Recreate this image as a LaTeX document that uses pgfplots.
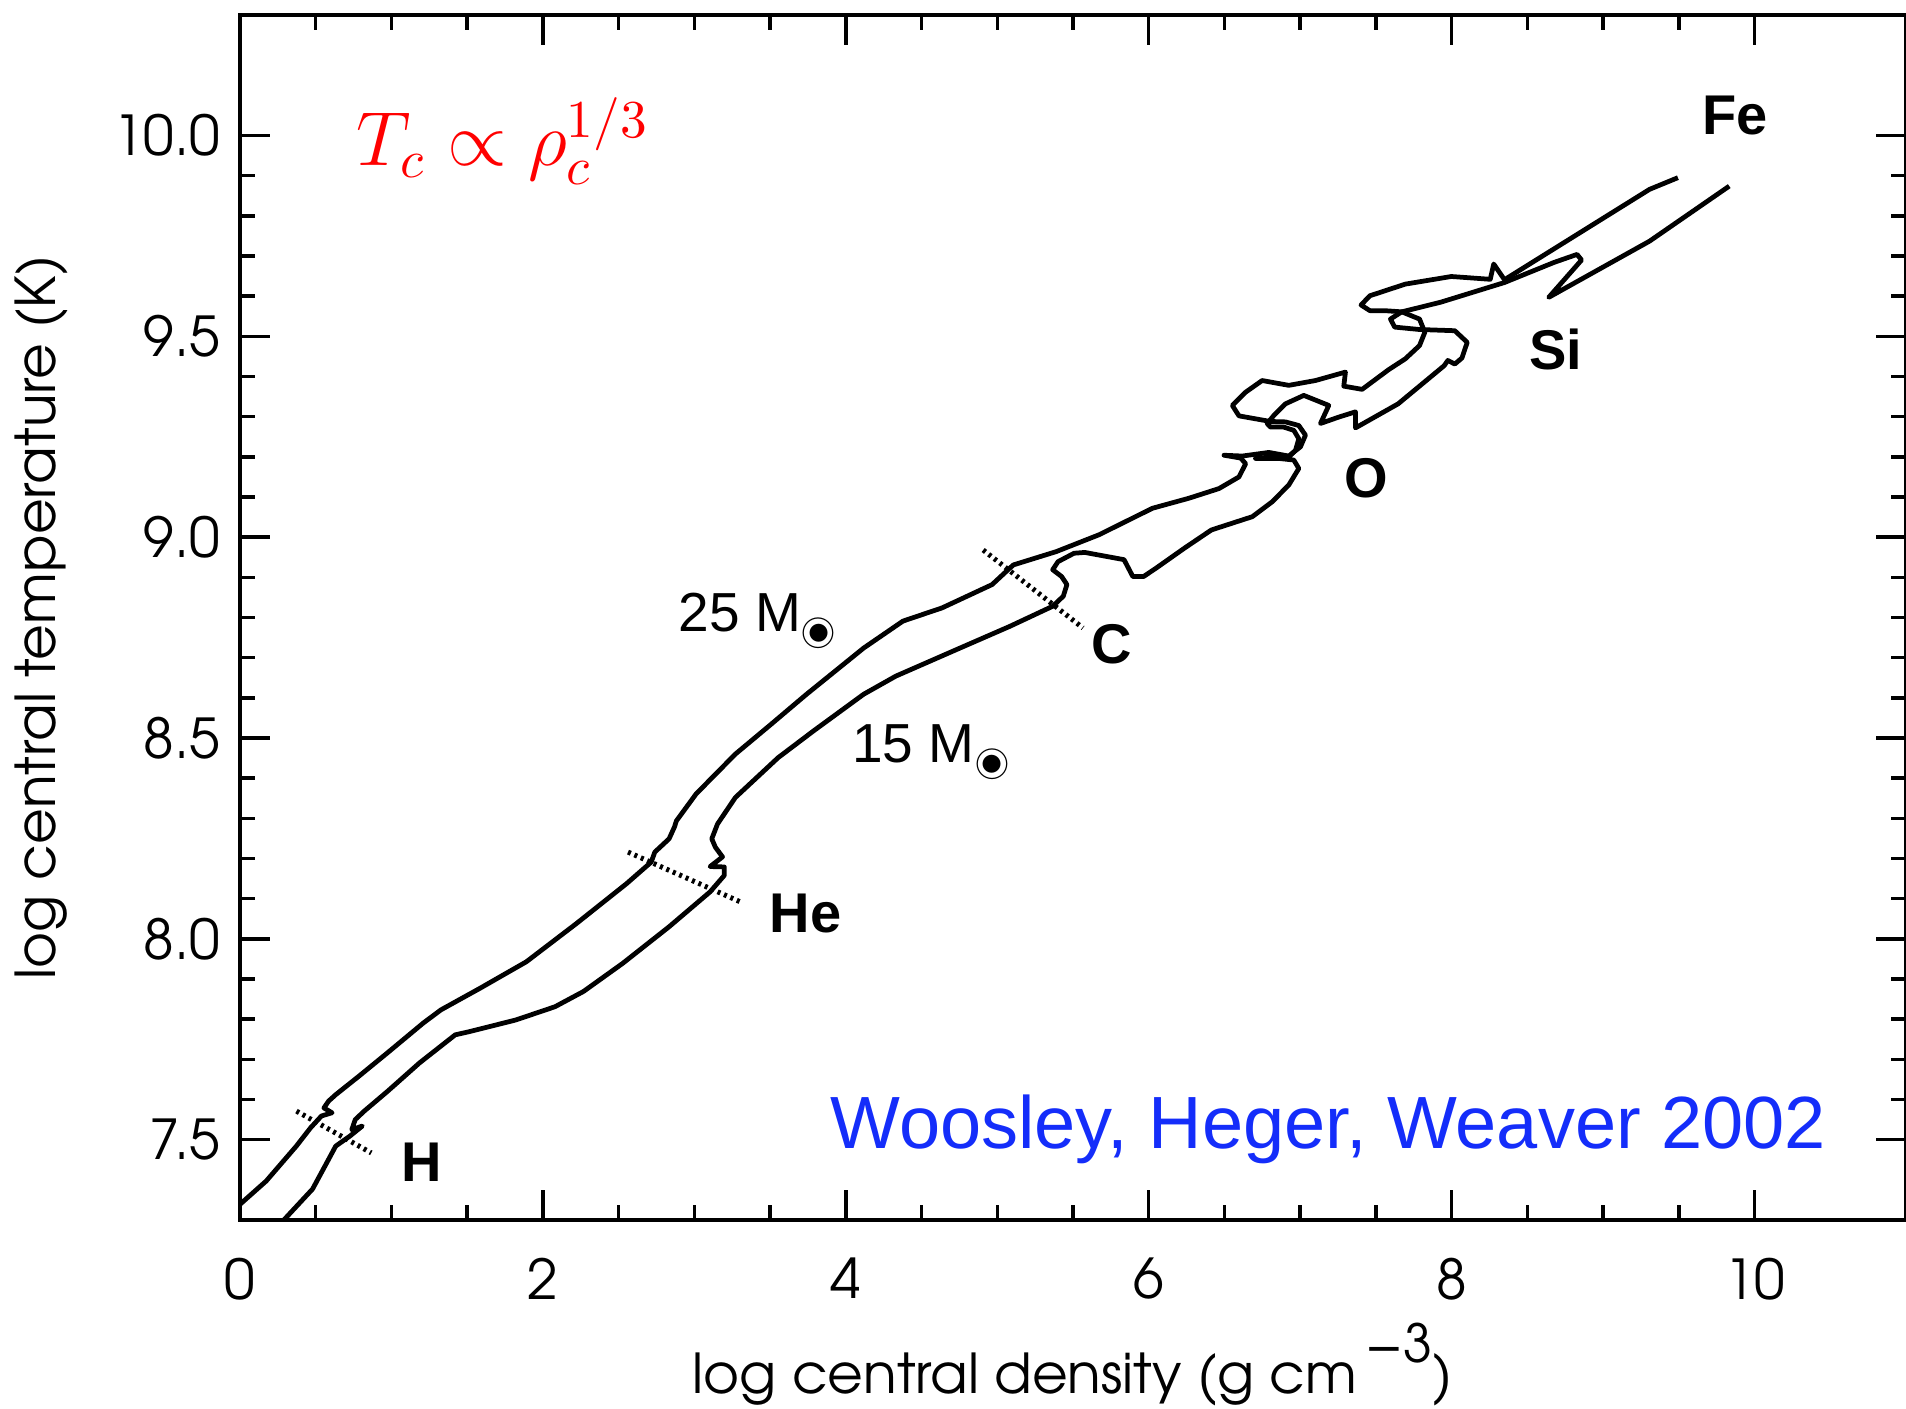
\documentclass[border=0pt]{standalone}
\usepackage{fontspec}
\setmainfont{Liberation Sans}
\newfontfamily\adv{TeX Gyre Adventor}
\usepackage{graphicx}
\usepackage{pgfplots}
\pgfplotsset{compat=1.18}
\definecolor{wblue}{RGB}{20,45,250}
\newcommand{\sun}{\raisebox{-2.6pt}{\fontsize{8.8}{9}\selectfont\ooalign{$\odot$\cr\hfil$\bullet$\hfil\cr}}}
\begin{document}
\begin{tikzpicture}
\begin{axis}[
  at={(0,0)}, anchor=south west,
  scale only axis, width=333.2pt, height=241pt,
  xmin=0, xmax=11, ymin=7.3, ymax=10.3,
  xtick={0,2,4,6,8,10}, ytick={7.5,8.0,8.5,9.0,9.5,10.0},
  minor x tick num=3, minor y tick num=4,
  tick align=inside, tick pos=both,
  major tick length=6pt, minor tick length=3pt,
  axis line style={line width=0.7pt},
  every tick/.style={black, line width=0.7pt},
  /pgf/number format/assume math mode=true,
  yticklabel style={/pgf/number format/fixed, /pgf/number format/fixed zerofill, /pgf/number format/precision=1, xshift=-0.5pt},
  tick label style={font=\adv\fontsize{11}{13}\selectfont},
  xticklabel style={yshift=-4pt},
  xlabel={log central density (g cm\,\raisebox{1.0ex}{\fontsize{10.5}{12}\selectfont −3})},
  ylabel={log central temperature (K)},
  xlabel style={font=\adv\fontsize{11}{13}\selectfont, at={(axis description cs:0.5,-0.1436)}, anchor=base},
  ylabel style={font=\adv\fontsize{11}{13}\selectfont, at={(axis description cs:-0.111,0.5)}, anchor=base},
]
% 25 Msun track
\addplot[black, line width=0.95pt, line join=round, mark=none] coordinates {
(0,7.339) (0.173,7.397) (0.372,7.484) (0.467,7.530) (0.538,7.559) (0.608,7.567)
(0.554,7.579) (0.585,7.596) (0.632,7.612) (0.785,7.658) (0.973,7.716) (1.209,7.790)
(1.326,7.823) (1.585,7.877) (1.891,7.943) (2.221,8.038) (2.551,8.137) (2.715,8.191)
(2.739,8.216) (2.833,8.249) (2.868,8.278) (2.882,8.294) (3.012,8.361) (3.271,8.460)
(3.506,8.534) (3.741,8.609) (4.118,8.724) (4.377,8.791) (4.636,8.824) (4.966,8.882)
(5.083,8.923) (5.107,8.931) (5.389,8.964) (5.672,9.006) (6.025,9.072) (6.266,9.097)
(6.464,9.121) (6.596,9.150) (6.640,9.183) (6.607,9.197) (6.497,9.204) (6.618,9.202)
(6.793,9.211) (6.925,9.202) (7.002,9.225) (7.035,9.254) (6.991,9.278) (6.903,9.287)
(6.804,9.288) (6.596,9.302) (6.552,9.328) (6.640,9.361) (6.749,9.390) (6.925,9.378)
(7.101,9.390) (7.299,9.411) (7.288,9.376) (7.409,9.368) (7.584,9.417) (7.694,9.444)
(7.788,9.477) (7.823,9.510) (7.788,9.543) (7.671,9.561) (7.554,9.564) (7.460,9.564)
(7.402,9.578) (7.460,9.601) (7.694,9.630) (7.998,9.649) (8.255,9.642) (8.278,9.680)
(8.349,9.641) (9.307,9.866) (9.494,9.895)
};
% 15 Msun track
\addplot[black, line width=0.95pt, line join=round, mark=none] coordinates {
(0.24,7.28) (0.479,7.377) (0.585,7.451) (0.632,7.484) (0.726,7.509) (0.808,7.534)
(0.738,7.525) (0.761,7.550) (0.820,7.571) (0.973,7.620) (1.185,7.691) (1.421,7.761)
(1.515,7.769) (1.821,7.798) (2.080,7.831) (2.268,7.869) (2.527,7.939) (2.833,8.030)
(3.104,8.117) (3.198,8.158) (3.198,8.179) (3.104,8.180) (3.186,8.204) (3.139,8.228)
(3.115,8.249) (3.153,8.286) (3.271,8.352) (3.553,8.451) (3.788,8.518) (4.118,8.609)
(4.330,8.654) (4.730,8.720) (5.083,8.778) (5.366,8.828) (5.436,8.853) (5.460,8.882)
(5.425,8.902) (5.366,8.919) (5.401,8.939) (5.507,8.960) (5.578,8.962) (5.837,8.944)
(5.895,8.902) (5.966,8.902) (6.049,8.923) (6.237,8.973) (6.414,9.018) (6.684,9.051)
(6.815,9.088) (6.925,9.130) (6.991,9.171) (6.958,9.192) (6.859,9.196) (6.705,9.196)
(6.815,9.200) (6.914,9.196) (6.969,9.216) (6.991,9.245) (6.958,9.266) (6.892,9.274)
(6.804,9.274) (6.782,9.283) (6.826,9.303) (6.903,9.332) (7.024,9.353) (7.189,9.328)
(7.134,9.283) (7.255,9.299) (7.365,9.312) (7.365,9.272) (7.647,9.332) (7.951,9.427)
(7.975,9.440) (8.021,9.431) (8.068,9.446) (8.103,9.485) (8.021,9.514) (7.788,9.517)
(7.624,9.523) (7.596,9.543) (7.671,9.561) (7.928,9.585) (8.349,9.634) (8.676,9.684)
(8.828,9.704) (8.858,9.690) (8.641,9.597) (9.307,9.737) (9.833,9.874)
};
% burning boundaries
\addplot[black, line width=1pt, dash pattern=on 0.6pt off 0.8pt, mark=none] coordinates {(0.373,7.571) (0.867,7.467)};
\addplot[black, line width=1pt, dash pattern=on 0.6pt off 0.8pt, mark=none] coordinates {(2.562,8.216) (3.304,8.092)};
\addplot[black, line width=1pt, dash pattern=on 0.6pt off 0.8pt, mark=none] coordinates {(4.907,8.968) (5.566,8.774)};
% labels
\node[anchor=base, inner sep=0, font=\fontsize{11.2}{12}\selectfont\bfseries] at (axis cs:9.87,10.003) {Fe};
\node[anchor=base, inner sep=0, font=\fontsize{11.2}{12}\selectfont\bfseries] at (axis cs:8.686,9.418) {Si};
\node[anchor=base, inner sep=0, font=\fontsize{11.2}{12}\selectfont\bfseries] at (axis cs:7.436,9.098) {O};
\node[anchor=base, inner sep=0, font=\fontsize{11.2}{12}\selectfont\bfseries] at (axis cs:5.753,8.685) {C};
\node[anchor=base, inner sep=0, font=\fontsize{11.2}{12}\selectfont\bfseries] at (axis cs:3.734,8.017) {He};
\node[anchor=base, inner sep=0, font=\fontsize{11.2}{12}\selectfont\bfseries] at (axis cs:1.202,7.397) {H};
\node[anchor=base west, inner sep=0, font=\fontsize{11}{12}\selectfont] at (axis cs:2.89,8.766) {25 M\sun};
\node[anchor=base west, inner sep=0, font=\fontsize{11}{12}\selectfont] at (axis cs:4.036,8.439) {15 M\sun};
\node[anchor=base west, inner sep=0, font=\fontsize{14.8}{16}\selectfont, text=wblue] at (axis cs:3.893,7.479) {Woosley, Heger, Weaver 2002};
\node[anchor=base west, inner sep=0, text=red] at (axis cs:0.761,9.925) {\scalebox{1.065}{\fontsize{14.4}{17}\selectfont$T_c \propto \rho_c^{1/3}$}};
\end{axis}
\pgfresetboundingbox
\path[use as bounding box] (-48pt,-37.8pt) rectangle (333.2pt,244pt);
\end{tikzpicture}
\end{document}
